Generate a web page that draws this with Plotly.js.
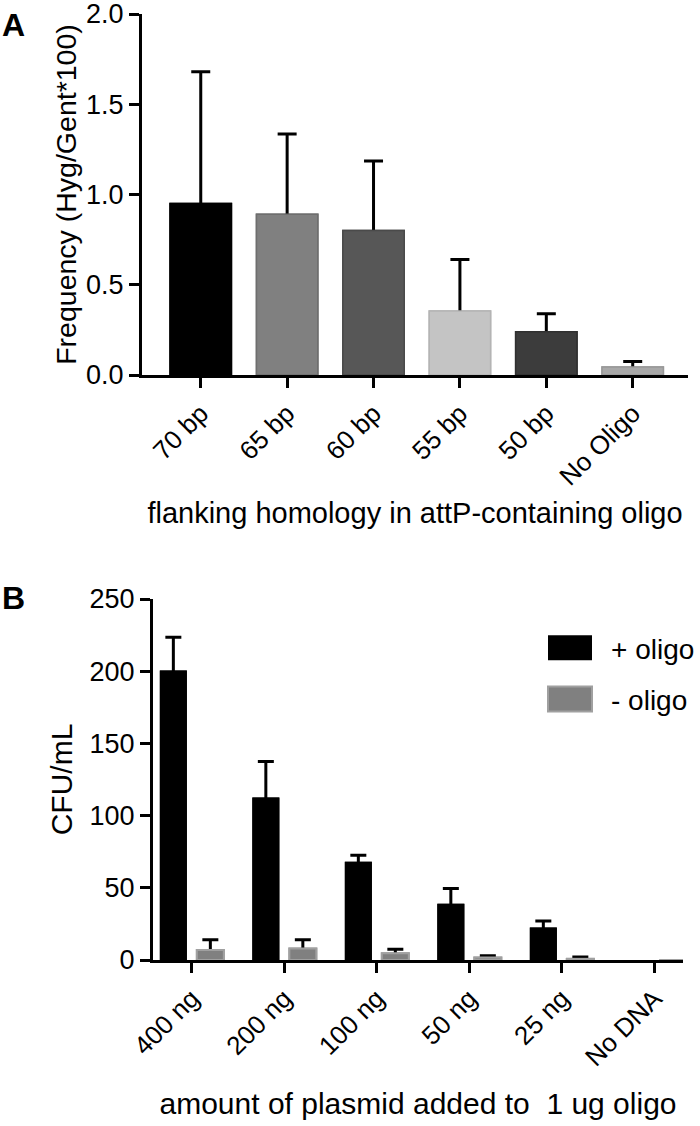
<!DOCTYPE html>
<html>
<head>
<meta charset="utf-8">
<script src="https://cdn.plot.ly/plotly-3.0.1.min.js"></script>
<style>
  html, body { margin: 0; padding: 0; background: #fff; }
  #chart { width: 700px; height: 1126px; }
</style>
</head>
<body>
<div id="chart"></div>
<script>
// Panel A: frequency by flanking homology length
const homologyLabels = ['70 bp', '65 bp', '60 bp', '55 bp', '50 bp', 'No Oligo']
const freqMean = [0.95, 0.89, 0.80, 0.355, 0.24, 0.045]
const freqErr = [0.73, 0.445, 0.385, 0.285, 0.10, 0.03]
const freqColors = ['#000000', '#808080', '#575757', '#c4c4c4', '#3c3c3c', '#a8a8a8']
const freqEdges = ['#000000', '#6e6e6e', '#4a4a4a', '#b4b4b4', '#303030', '#989898']

// Panel B: CFU/mL by plasmid amount, with and without oligo (no bar, no error for "No DNA")
const plasmidLabels = ['400 ng', '200 ng', '100 ng', '50 ng', '25 ng', 'No DNA']
const plusOligo = [200.5, 112.5, 68, 39, 22.5, 0]
const plusOligoErr = [23, 25, 4.5, 10.5, 4.5, NaN]
const minusOligo = [7, 8, 4.7, 1.8, 0.8, 0]
const minusOligoErr = [7, 6, 2.8, 1.2, 1.2, NaN]

const FONT = 'Liberation Sans, Arial, Helvetica, sans-serif'
const W = 700, H = 1126

// only the upper half of the error bar is shown; the lower end ("shoe")
// is pushed a few px into the bar and then hidden by a second copy of the bar
function errBar(arr, vals, sink, w) {
    return {
        type: 'data', array: arr,
        arrayminus: vals.map((v, i) => isNaN(arr[i]) ? NaN : Math.min(v, sink)),
        symmetric: false, color: '#000', thickness: 3, width: w
    }
}

const traces = [
    {
        type: 'bar', x: homologyLabels, y: freqMean, xaxis: 'x', yaxis: 'y',
        offsetgroup: 'a', width: 0.71, showlegend: false,
        marker: { color: freqColors, line: { color: freqEdges, width: 1.5 } },
        error_y: errBar(freqErr, freqMean, 0.02, 9.5)
    },
    {
        type: 'bar', x: homologyLabels, y: freqMean, xaxis: 'x', yaxis: 'y',
        offsetgroup: 'a', width: 0.71, showlegend: false,
        marker: { color: freqColors, line: { color: freqEdges, width: 1.5 } }
    },
    {
        type: 'bar', name: '+ oligo', x: plasmidLabels, y: plusOligo, xaxis: 'x2', yaxis: 'y2',
        offsetgroup: 'plus', legendgroup: 'plus',
        marker: { color: '#000', line: { width: 0 } },
        error_y: errBar(plusOligoErr, plusOligo, 2.2, 8)
    },
    {
        type: 'bar', name: '- oligo', x: plasmidLabels, y: minusOligo, xaxis: 'x2', yaxis: 'y2',
        offsetgroup: 'minus', legendgroup: 'minus',
        marker: { color: '#808080', line: { color: '#a0a0a0', width: 2 } },
        error_y: errBar(minusOligoErr, minusOligo, 2.2, 8)
    },
    {
        type: 'bar', x: plasmidLabels, y: plusOligo, xaxis: 'x2', yaxis: 'y2',
        offsetgroup: 'plus', showlegend: false,
        marker: { color: '#000', line: { width: 0 } }
    },
    {
        type: 'bar', x: plasmidLabels, y: minusOligo, xaxis: 'x2', yaxis: 'y2',
        offsetgroup: 'minus', showlegend: false,
        marker: { color: '#808080', line: { color: '#a0a0a0', width: 2 } }
    }
]

const axisStyle = {
    showline: true, linecolor: '#000', linewidth: 3,
    ticks: 'outside', ticklen: 10, tickwidth: 3, tickcolor: '#000',
    showgrid: false, zeroline: false, ticklabeloverflow: 'allow'
}
const xTickFont = { family: FONT, size: 26, color: '#000' }
const yTickFont = { family: FONT, size: 27, color: '#000' }

const layout = {
    width: W, height: H,
    margin: { l: 0, r: 0, t: 0, b: 0 },
    paper_bgcolor: '#fff', plot_bgcolor: '#fff',
    font: { family: FONT, color: '#000' },
    barmode: 'group', bargap: 0.2, bargroupgap: 0.27,
    xaxis: Object.assign({}, axisStyle, {
        domain: [142 / W, 688 / W], anchor: 'y', type: 'category',
        range: [-0.68, 5.64], tickangle: -45, tickfont: xTickFont,
        title: { text: 'flanking homology in attP-containing oligo', font: { family: FONT, size: 29 }, standoff: 13 }
    }),
    yaxis: Object.assign({}, axisStyle, {
        domain: [1 - 375 / H, 1 - 14 / H], anchor: 'x',
        range: [0, 2], dtick: 0.5, tickformat: '.1f', tickfont: yTickFont,
        title: { text: 'Frequency (Hyg/Gent*100)', font: { family: FONT, size: 28.5 }, standoff: 2 }
    }),
    xaxis2: Object.assign({}, axisStyle, {
        domain: [153 / W, 683 / W], anchor: 'y2', type: 'category',
        range: [-0.42, 5.31], tickangle: -45, tickfont: xTickFont,
        title: { text: 'amount of plasmid added to \u00a01 ug oligo', font: { family: FONT, size: 30 }, standoff: 22 }
    }),
    yaxis2: Object.assign({}, axisStyle, {
        domain: [1 - 960 / H, 1 - 599 / H], anchor: 'x2',
        range: [0, 250], dtick: 50, tickfont: yTickFont,
        title: { text: 'CFU/mL', font: { family: FONT, size: 30 }, standoff: 9 }
    }),
    showlegend: true,
    legend: {
        x: 529 / W, y: 1 - 623 / H, xanchor: 'left', yanchor: 'top',
        font: { family: FONT, size: 28, color: '#000' },
        itemwidth: 72, tracegroupgap: 12, bgcolor: 'rgba(0,0,0,0)'
    },
    annotations: [
        { text: '<b>A</b>', xref: 'paper', yref: 'paper', x: 0, y: 1 - 5 / H,
          xanchor: 'left', yanchor: 'top', showarrow: false, font: { family: FONT, size: 32 } },
        { text: '<b>B</b>', xref: 'paper', yref: 'paper', x: 0, y: 1 - 578 / H,
          xanchor: 'left', yanchor: 'top', showarrow: false, font: { family: FONT, size: 32 } }
    ]
}

const config = { staticPlot: true, displayModeBar: false }

Plotly.newPlot('chart', traces, layout, config).then(() => {
    // larger legend swatches like the original figure
    document.querySelectorAll('.legend .legendpoints path').forEach(p => {
        p.setAttribute('d', 'M22,12.5H-22V-12.5H22Z')
    })
})
</script>
</body>
</html>
